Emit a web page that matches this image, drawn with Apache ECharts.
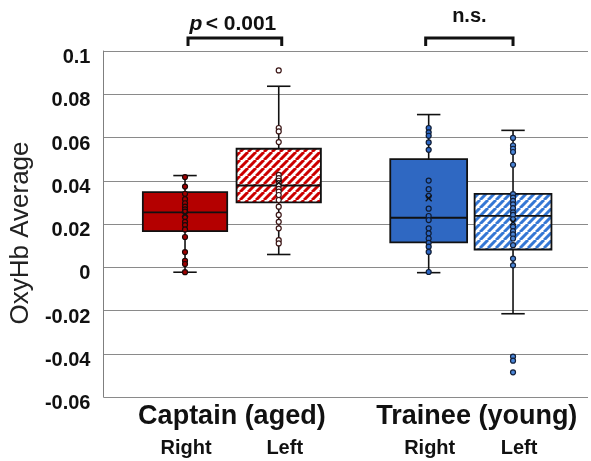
<!DOCTYPE html>
<html>
<head>
<meta charset="utf-8">
<script src="https://cdn.jsdelivr.net/npm/echarts@6/dist/echarts.min.js"></script>
<style>
html,body{margin:0;padding:0;background:#fff;}
#chart{width:591px;height:461px;}
</style>
</head>
<body>
<div id="chart"></div>
<script>
// ---- data ----
const groups = ['Captain (aged)', 'Trainee (young)'];
const categories = ['Right', 'Left', 'Right', 'Left'];
const yTicks = [-0.06, -0.04, -0.02, 0, 0.02, 0.04, 0.06, 0.08, 0.1];

const boxMin    = [-0.0023, 0.0059, -0.0025, -0.0215];
const boxQ1     = [0.0167, 0.0300, 0.0115, 0.0082];
const boxMedian = [0.0254, 0.0378, 0.0229, 0.0238];
const boxQ3     = [0.0347, 0.0548, 0.0500, 0.0339];
const boxMax    = [0.0424, 0.0837, 0.0706, 0.0633];
const boxMean   = [0.0245, 0.0390, 0.0319, 0.0210];

const captainRight = [0.0417, 0.0373, 0.0340, 0.0315, 0.0296, 0.0280, 0.0268, 0.0257,
  0.0232, 0.0210, 0.0195, 0.0175, 0.0140, 0.0070, 0.0030, 0.0015, -0.0023];
const captainLeft = [0.0910, 0.0644, 0.0628, 0.0579, 0.0427, 0.0412, 0.0400, 0.0389,
  0.0378, 0.0362, 0.0350, 0.0334, 0.0311, 0.0280, 0.0242, 0.0210, 0.0180, 0.0125, 0.0110];
const traineeRight = [0.0644, 0.0624, 0.0608, 0.0577, 0.0543, 0.0401, 0.0361, 0.0330,
  0.0271, 0.0237, 0.0218, 0.0180, 0.0157, 0.0133, 0.0113, 0.0095, 0.0071, -0.0022];
const traineeLeft = [0.0598, 0.0563, 0.0548, 0.0533, 0.0474, 0.0338, 0.0322, 0.0307,
  0.0291, 0.0273, 0.0254, 0.0242, 0.0222, 0.0187, 0.0167, 0.0152, 0.0133, 0.0102,
  0.0040, 0.0009, -0.0413, -0.0432, -0.0486];
const pointSets = [captainRight, captainLeft, traineeRight, traineeLeft];

const sigLabels = ['p < 0.001', 'n.s.'];

// ---- layout (not data) ----
const slotPos = [1, 2, 3.6, 4.5];
const slotWidth = [0.9, 0.9, 0.82, 0.82];
const capWidth = 0.25;
const FONT = '"Liberation Sans", Arial, Helvetica, sans-serif';

function stripes(color) {
  const s = 8;
  const c = document.createElement('canvas');
  c.width = s; c.height = s;
  const ctx = c.getContext('2d');
  ctx.fillStyle = '#ffffff';
  ctx.fillRect(0, 0, s, s);
  ctx.strokeStyle = color;
  ctx.lineWidth = 3;
  ctx.beginPath();
  for (const k of [-s, 0, s]) {
    ctx.moveTo(k, s);
    ctx.lineTo(k + s, 0);
  }
  ctx.stroke();
  return { image: c, repeat: 'repeat' };
}

const boxFills = ['#b40000', stripes('#cc0000'), '#2f68c2', stripes('#3477d4')];
const pointFill = ['#a00000', '#ffffff', '#2c66c4', '#4a86d8'];
const pointBorder = ['#1a0808', '#3a1414', '#0f1c33', '#14203a'];

const chart = echarts.init(document.getElementById('chart'), null, { renderer: 'canvas' });

const boxData = categories.map((c, i) => [slotPos[i], boxMin[i], boxQ1[i], boxMedian[i], boxQ3[i], boxMax[i]]);
const meanData = categories.map((c, i) => [slotPos[i], boxMean[i]]);

function renderBox(params, api) {
  const i = params.dataIndex;
  const x = api.value(0);
  const pMin = api.coord([x, api.value(1)]);
  const pQ1 = api.coord([x, api.value(2)]);
  const pMed = api.coord([x, api.value(3)]);
  const pQ3 = api.coord([x, api.value(4)]);
  const pMax = api.coord([x, api.value(5)]);
  const cx = pMed[0];
  const hw = api.size([slotWidth[i], 0])[0] / 2;
  const ch = api.size([capWidth, 0])[0] / 2;
  const ls = { stroke: '#111', lineWidth: 1.6 };
  return {
    type: 'group',
    children: [
      { type: 'line', shape: { x1: cx, y1: pQ3[1], x2: cx, y2: pMax[1] }, style: ls },
      { type: 'line', shape: { x1: cx, y1: pQ1[1], x2: cx, y2: pMin[1] }, style: ls },
      { type: 'line', shape: { x1: cx - ch, y1: pMax[1], x2: cx + ch, y2: pMax[1] }, style: ls },
      { type: 'line', shape: { x1: cx - ch, y1: pMin[1], x2: cx + ch, y2: pMin[1] }, style: ls },
      { type: 'rect', shape: { x: cx - hw, y: pQ3[1], width: 2 * hw, height: pQ1[1] - pQ3[1] },
        style: { fill: boxFills[i], stroke: '#111', lineWidth: 1.8 } },
      { type: 'line', shape: { x1: cx - hw, y1: pMed[1], x2: cx + hw, y2: pMed[1] },
        style: { stroke: '#111', lineWidth: 1.8 } }
    ]
  };
}

function renderMean(params, api) {
  const p = api.coord([api.value(0), api.value(1)]);
  const r = 3;
  const st = { stroke: '#111', lineWidth: 1.3 };
  return {
    type: 'group',
    children: [
      { type: 'line', shape: { x1: p[0] - r, y1: p[1] - r, x2: p[0] + r, y2: p[1] + r }, style: st },
      { type: 'line', shape: { x1: p[0] - r, y1: p[1] + r, x2: p[0] + r, y2: p[1] - r }, style: st }
    ]
  };
}

const scatterSeries = pointSets.map((arr, i) => ({
  type: 'scatter',
  name: categories[i] + i,
  data: arr.map(v => [slotPos[i], v]),
  symbol: 'circle',
  symbolSize: 5,
  z: 5,
  itemStyle: { color: pointFill[i], borderColor: pointBorder[i], borderWidth: 1.2, opacity: 1 },
  silent: true,
  animation: false
}));

chart.setOption({
  animation: false,
  backgroundColor: '#ffffff',
  grid: { left: 96, right: 3, top: 51, bottom: 64, containLabel: false },
  xAxis: {
    type: 'value', min: 0.13, max: 5.3, show: false
  },
  yAxis: {
    type: 'value', min: yTicks[0], max: yTicks[yTicks.length - 1], interval: 0.02,
    name: 'OxyHb Average',
    nameLocation: 'middle',
    nameGap: 66,
    nameTextStyle: { fontFamily: FONT, fontSize: 26, color: '#222', padding: [0, 18, 0, 0] },
    axisLine: { show: true, lineStyle: { color: '#7f7f7f', width: 1 } },
    axisTick: { show: false },
    axisLabel: {
      margin: 13,
      formatter: v => '{a|' + String(parseFloat(v.toFixed(2))) + '}',
      rich: {
        a: { fontFamily: FONT, fontWeight: 'bold', fontSize: 20, color: '#111', padding: [13, 0, 0, 0] }
      }
    },
    splitLine: { show: true, lineStyle: { color: '#8a8a8a', width: 1 } }
  },
  series: [
    { type: 'custom', renderItem: renderBox, data: boxData, encode: { x: 0, y: [1, 2, 3, 4, 5] }, z: 3, silent: true },
    ...scatterSeries,
    { type: 'custom', renderItem: renderMean, data: meanData, encode: { x: 0, y: 1 }, z: 6, silent: true }
  ]
});

// annotations positioned via the axes
const px = (x, y) => chart.convertToPixel({ xAxisIndex: 0, yAxisIndex: 0 }, [x, y]);
const topY = px(slotPos[0], yTicks[yTicks.length - 1])[1];
const botY = px(slotPos[0], yTicks[0])[1];
const graphics = [];
const bracketPairs = [[0, 1], [2, 3]];
bracketPairs.forEach((pair, g) => {
  const xa = px(slotPos[pair[0]], 0)[0] + (g === 0 ? 3 : -3);
  const xb = px(slotPos[pair[1]], 0)[0] + (g === 0 ? 3 : 0);
  const yl = topY - 13, yd = topY - 5;
  graphics.push({
    type: 'polyline', shape: { points: [[xa, yd], [xa, yl], [xb, yl], [xb, yd]] },
    style: { stroke: '#111', lineWidth: 3, fill: null }
  });
  const tx = (xa + xb) / 2;
  if (g === 0) {
    graphics.push({
      type: 'text', x: tx - 2, y: yl - 3,
      style: {
        text: '{i|p} {b|< 0.001}',
        rich: {
          i: { fontFamily: FONT, fontStyle: 'italic', fontWeight: 'bold', fontSize: 21, fill: '#111' },
          b: { fontFamily: FONT, fontWeight: 'bold', fontSize: 21, fill: '#111' }
        },
        align: 'center', verticalAlign: 'bottom'
      }
    });
  } else {
    graphics.push({
      type: 'text', x: tx, y: yl - 12,
      style: { text: sigLabels[1], fontFamily: FONT, fontWeight: 'bold', fontSize: 20, fill: '#111',
        align: 'center', verticalAlign: 'bottom' }
    });
  }
  const gx = (px(slotPos[pair[0]], 0)[0] + px(slotPos[pair[1]], 0)[0]) / 2 + (g === 0 ? 0 : 6);
  graphics.push({
    type: 'text', x: gx, y: botY + 20,
    style: { text: groups[g], fontFamily: FONT, fontWeight: 'bold', fontSize: 27, fill: '#111',
      align: 'center', verticalAlign: 'middle' }
  });
});
categories.forEach((c, i) => {
  const x = px(slotPos[i], 0)[0] + (c === 'Left' ? 6 : 1);
  graphics.push({
    type: 'text', x: x, y: botY + 51,
    style: { text: c, fontFamily: FONT, fontWeight: 'bold', fontSize: 20, fill: '#111',
      align: 'center', verticalAlign: 'middle' }
  });
});
chart.setOption({ graphic: graphics });
</script>
</body>
</html>
